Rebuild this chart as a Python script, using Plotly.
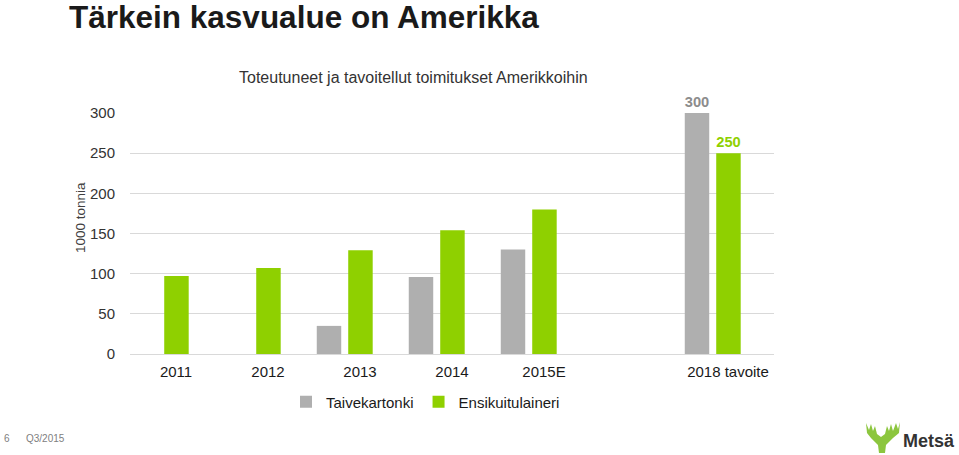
import plotly.graph_objects as go

# ---- data ----
categories = ["2011", "2012", "2013", "2014", "2015E", " ", "2018 tavoite"]
taivekartonki = [None, None, 35, 96, 130, None, 300]
ensikuitulaineri = [97, 107, 129, 154, 180, None, 250]
series_names = ["Taivekartonki", "Ensikuitulaineri"]
y_ticks = [0, 50, 100, 150, 200, 250, 300]
labelled_category = "2018 tavoite"

# ---- geometry helpers (pixel -> paper) ----
W, H = 959, 455
L, R, T, B = 130, 774, 113, 354


def px(x):
    return (x - L) / (R - L)


def py(y):
    return (B - y) / (B - T)


GREEN = "#8fd000"
GREY = "#afafaf"
FONT = "Liberation Sans, Arial, sans-serif"


def label_text(values):
    return [str(v) if (c == labelled_category and v is not None) else "" for c, v in zip(categories, values)]


fig = go.Figure()
fig.add_trace(go.Bar(
    x=categories, y=taivekartonki, name=series_names[0],
    marker=dict(color=GREY, line=dict(width=0)),
    width=0.266, offset=-0.47,
    text=label_text(taivekartonki), textposition="outside",
    textfont=dict(color="#8c8c8c", size=15, family=FONT, weight="bold"),
    cliponaxis=False, hoverinfo="x+y",
))
fig.add_trace(go.Bar(
    x=categories, y=ensikuitulaineri, name=series_names[1],
    marker=dict(color=GREEN, line=dict(width=0)),
    width=0.266, offset=-0.128,
    text=label_text(ensikuitulaineri), textposition="outside",
    textfont=dict(color=GREEN, size=15, family=FONT, weight="bold"),
    cliponaxis=False, hoverinfo="x+y",
))

fig.update_layout(
    width=W, height=H, autosize=False,
    margin=dict(l=L, r=W - R, t=T, b=H - B, pad=0),
    paper_bgcolor="white", plot_bgcolor="white",
    barmode="overlay",
    font=dict(family=FONT, size=15, color="#333333"),
    showlegend=True,
    legend=dict(
        orientation="h", x=px(286), xanchor="left", y=py(402), yanchor="middle",
        font=dict(size=15, color="#1a1a1a", family=FONT),
        itemwidth=30, bgcolor="rgba(0,0,0,0)", traceorder="normal",
    ),
    xaxis=dict(
        type="category", categoryorder="array", categoryarray=categories,
        range=[-0.5, len(categories) - 0.5],
        showgrid=False, showline=False, zeroline=False,
        ticks="", ticklabelstandoff=7,
        tickfont=dict(size=15, color="#1a1a1a", family=FONT),
    ),
    yaxis=dict(
        range=[0, 300], tickvals=y_ticks,
        showgrid=True, gridcolor="#d9d9d9", gridwidth=1,
        zeroline=True, zerolinecolor="#d9d9d9", zerolinewidth=1,
        showline=False, ticks="", ticklabelstandoff=14,
        tickfont=dict(size=15, color="#333333", family=FONT),
    ),
)

annotations = [
    dict(text="<b>Tärkein kasvualue on Amerikka</b>", x=px(67), y=py(17),
         xanchor="left", yanchor="middle",
         font=dict(size=31.5, color="#1a1a1a", family=FONT)),
    dict(text="Toteutuneet ja tavoitellut toimitukset Amerikkoihin", x=px(413), y=py(77),
         xanchor="center", yanchor="middle",
         font=dict(size=16, color="#333333", family=FONT)),
    dict(text="1000 tonnia", x=px(80), y=py(218), textangle=-90,
         xanchor="center", yanchor="middle",
         font=dict(size=13.5, color="#404040", family=FONT)),
    dict(text="6", x=px(2), y=py(438), xanchor="left", yanchor="middle",
         font=dict(size=10, color="#808080", family=FONT)),
    dict(text="Q3/2015", x=px(24), y=py(438), xanchor="left", yanchor="middle",
         font=dict(size=10, color="#808080", family=FONT)),
    dict(text="<b>Metsä</b>", x=px(901), y=py(441), xanchor="left", yanchor="middle",
         font=dict(size=18, color="#333333", family=FONT)),
]
for a in annotations:
    a.update(xref="paper", yref="paper", showarrow=False)
fig.update_layout(annotations=annotations)

# Logo: stylised moose head (decoration)
moose_px = [
    (879, 453), (878, 445), (871, 438), (867, 433), (866, 423), (869, 430),
    (871, 424), (873, 431), (875, 426), (877, 434), (881, 437), (885, 434),
    (887, 426), (889, 431), (891, 424), (893, 431), (896, 423), (898, 429),
    (900, 422), (899, 433), (893, 438), (886, 445), (885, 453),
]
path = "M " + " L ".join(f"{px(x):.5f},{py(y):.5f}" for x, y in moose_px) + " Z"
fig.add_shape(type="path", path=path, xref="paper", yref="paper",
              fillcolor="#8cc63e", line=dict(width=0), layer="above")

fig.write_html(
    "out.html",
    config={"displayModeBar": False},
    post_script="document.body.style.margin='0px';document.body.style.overflow='hidden';",
)
